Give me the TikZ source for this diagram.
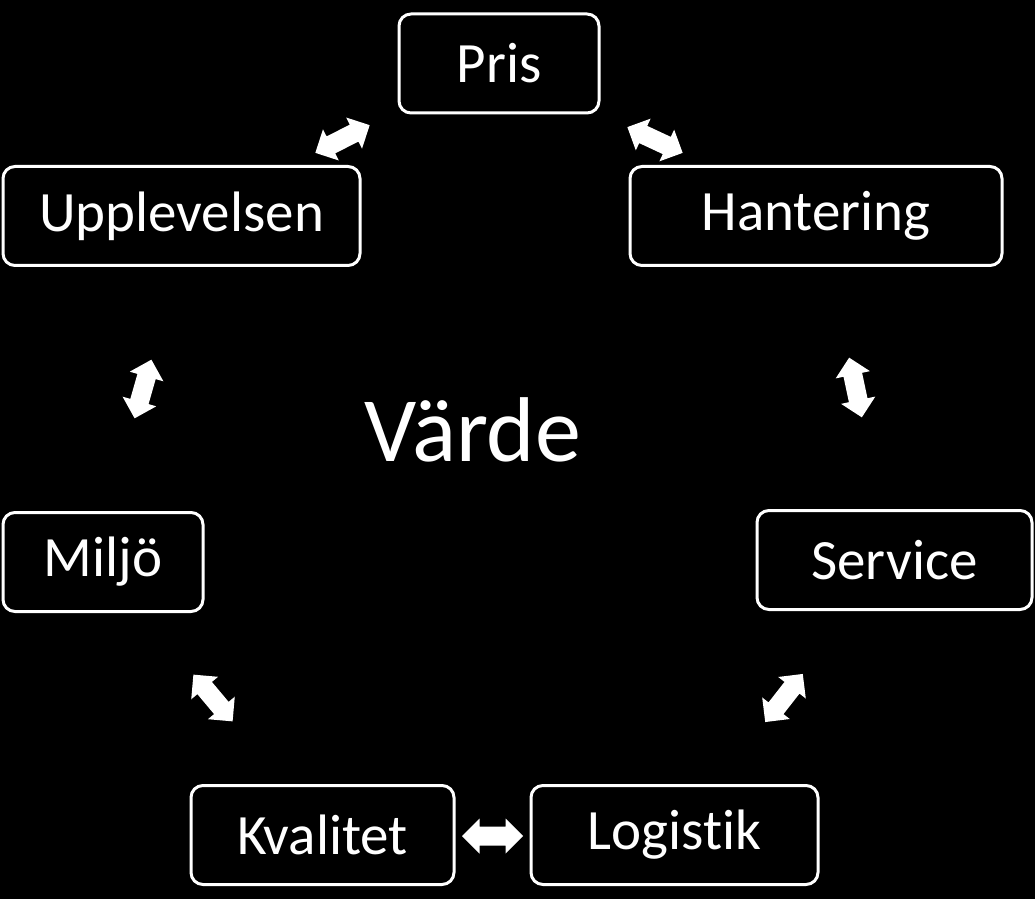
\documentclass[tikz,border=0pt]{standalone}
\usepackage{fontspec}
\setmainfont{Carlito}[Ligatures=NoCommon]

\begin{document}
\begin{tikzpicture}[
  x=0.5pt, y=-0.5pt,
  box/.style={
    draw=white,
    line width=1.5pt,
    rounded corners=6pt,
    minimum height=49.5pt,
    inner sep=0pt,
    text=white,
    font=\fontsize{28.5}{31}\selectfont
  },
  dblarrow/.pic={
    \fill[white] (-30.5,0)--(-13,-17.5)--(-13,-9.5)--(13,-9.5)--(13,-17.5)
      --(30.5,0)--(13,17.5)--(13,9.5)--(-13,9.5)--(-13,17.5)--cycle;
  }
]
  \fill[black] (0,0) rectangle (1035,899);
  \useasboundingbox (0,0) rectangle (1035,899);

  \node[box,minimum width=100pt] (pris) at (499,63.5) {Pris};
  \node[box,minimum width=178.5pt] (upplev) at (181.5,216) {Upplevelsen};
  \node[box,minimum width=186pt] (hant) at (816,216) {Hantering};
  \node[box,minimum width=100pt] (miljo) at (103,562) {Miljö};
  \node[box,minimum width=137.5pt] (serv) at (894.5,560) {Service};
  \node[box,minimum width=131.5pt] (kval) at (322.5,835) {Kvalitet};
  \node[box,minimum width=143.5pt] (logi) at (674.5,835) {Logistik};

  \node[text=white,font=\fontsize{46}{50}\selectfont] (varde) at (473,430) {Värde};

  % double arrows between the boxes
  \pic[rotate=27] at (342.5,139) {dblarrow};
  \pic[rotate=-25] at (655,140) {dblarrow};
  \pic[rotate=74] at (143,389) {dblarrow};
  \pic[rotate=102] at (855.5,387.5) {dblarrow};
  \pic[rotate=-50] at (213,698) {dblarrow};
  \pic[rotate=52] at (784,698) {dblarrow};
  \pic at (492.5,836) {dblarrow};
\end{tikzpicture}
\end{document}
